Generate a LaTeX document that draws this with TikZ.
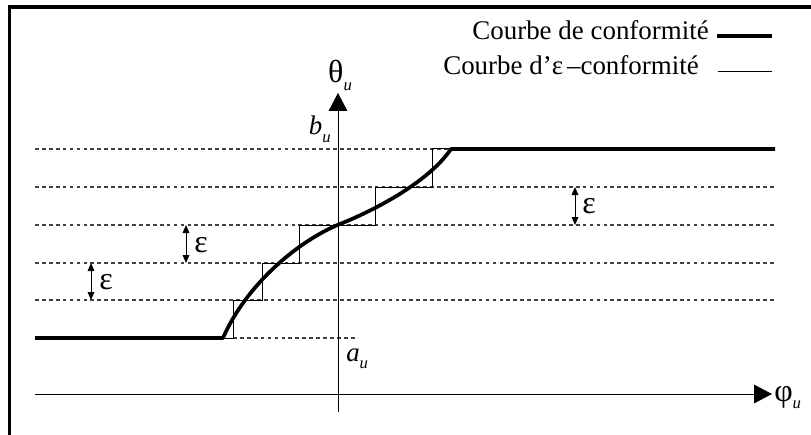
\documentclass[tikz,border=0pt]{standalone}
\usepackage{fontspec}
\setmainfont{Liberation Serif}
\usetikzlibrary{arrows.meta}
\newcommand{\mysub}[1]{\raisebox{-0.6ex}{\fontsize{12.5}{12.5}\selectfont\itshape #1}}
\newcommand{\gk}[1]{{\fontsize{24}{24}\selectfont #1}}
\begin{document}
\begin{tikzpicture}[x=0.75pt,y=-0.75pt,
  txt/.style={inner sep=0pt,font=\fontsize{20.2}{22}\selectfont},
  thin/.style={line width=0.75pt},
  thickcurve/.style={line width=2.8pt},
  guide/.style={line width=0.8pt,black!75,dash pattern=on 2.8pt off 2.4pt},
  axisarrow/.style={line width=0.75pt,-{Triangle[length=13.5pt,width=14pt]}},
  epsarrow/.style={line width=0.75pt,{Triangle[length=6pt,width=5pt]}-{Triangle[length=6pt,width=5pt]}}]
\useasboundingbox (0,0) rectangle (811,435);
% frame
\draw[line width=2.4pt] (9.5,435) -- (9.5,7) -- (811,7);
% guide lines
\foreach \yy in {149,187,225,263,300}
  \draw[guide] (35,\yy) -- (775,\yy);
\draw[guide] (233,338) -- (357,338);
% axes
\coordinate (xs) at (35,394);
\coordinate (xe) at (772,394);
\coordinate (ys) at (338,412);
\coordinate (ye) at (338,93);
\draw[axisarrow] (xs) -- (xe);
\draw[axisarrow] (ys) -- (ye);
\node[txt,anchor=base] (theta) at (340,83) {\gk{θ}\mysub{u}};
\node[txt,anchor=base west] (phi) at (774,401) {\gk{φ}\mysub{u}};
\node[txt,anchor=base east] (bu) at (331,135) {\itshape b\mysub{u}};
\node[txt,anchor=base west] (au) at (346,361) {\itshape a\mysub{u}};
% epsilon step curve
\coordinate (s0) at (223,338);
\draw[thin] (s0) -- (233,338) -- (233,300) -- (262,300) -- (262,263) -- (299,263)
  -- (299,225) -- (375,225) -- (375,187) -- (432,187) -- (432,149) -- (451,149);
% conformity curve
\coordinate (c0) at (35,338);
\coordinate (cm) at (340,224);
\coordinate (c1) at (451,149);
\coordinate (c2) at (775,149);
\draw[thickcurve,line join=round] (c0) -- (s0) .. controls (247,283) and (300,240) .. (cm)
  .. controls (380,208) and (430,180) .. (c1) -- (c2);
% epsilon arrows
\coordinate (e1a) at (91,263); \coordinate (e1b) at (91,300);
\coordinate (e2a) at (186,225); \coordinate (e2b) at (186,263);
\coordinate (e3a) at (575,187); \coordinate (e3b) at (575,225);
\draw[epsarrow] (e1a) -- (e1b);
\draw[epsarrow] (e2a) -- (e2b);
\draw[epsarrow] (e3a) -- (e3b);
\node[txt,anchor=base west] (eps1) at (99,289) {\gk{ε}};
\node[txt,anchor=base west] (eps2) at (194,252) {\gk{ε}};
\node[txt,anchor=base west] (eps3) at (582,213) {\gk{ε}};
% legend
\node[txt,anchor=base east] (leg1) at (709,39.5) {Courbe de conformité};
\node[txt,anchor=base east] (leg2) at (699,75) {Courbe d’ε\hspace{0.15em}–conformité};
\coordinate (l1a) at (717,36); \coordinate (l1b) at (772,36);
\coordinate (l2a) at (718,72); \coordinate (l2b) at (772,72);
\draw[line width=3.2pt] (l1a) -- (l1b);
\draw[thin] (l2a) -- (l2b);
\end{tikzpicture}
\end{document}
